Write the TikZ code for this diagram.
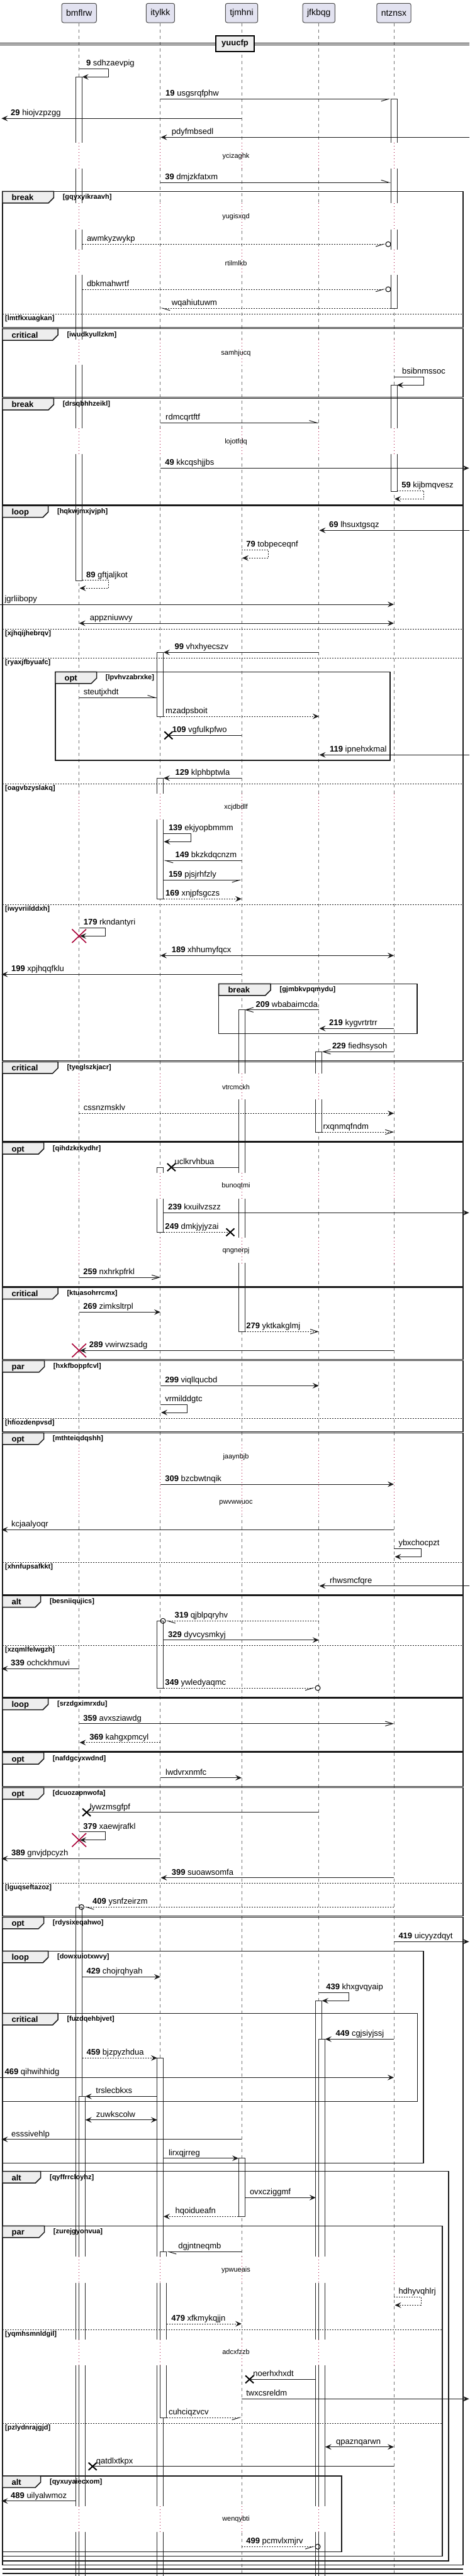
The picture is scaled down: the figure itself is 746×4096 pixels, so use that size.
\documentclass[tikz,border=0pt]{standalone}
\usepackage{fontspec}
\setmainfont{Liberation Sans}
\usetikzlibrary{arrows.meta,shapes.misc}
\definecolor{partfill}{HTML}{E2E2F0}
\definecolor{tabfill}{HTML}{EEEEEE}
\definecolor{delayred}{HTML}{A80036}
\newcommand{\msgsize}{\fontsize{6.5pt}{7.5pt}\selectfont}
\newcommand{\smallsize}{\fontsize{5.5pt}{6.5pt}\selectfont}

\tikzset{
  lifeline/.style={draw=black!55, line width=0.5pt, dash pattern=on 2.5pt off 2.5pt},
  delayline/.style={draw=delayred, line width=0.5pt, dash pattern=on 0.5pt off 2pt},
  bar/.style={draw=black!85, fill=white, line width=0.5pt},
  msg/.style={draw=black!90, line width=0.5pt},
  dotmsg/.style={dash pattern=on 1pt off 1pt},
  tipfull/.style={-{Stealth[length=5pt,width=4.4pt,inset=2pt]}},
  tipboth/.style={{Stealth[length=5pt,width=4.4pt,inset=2pt]}-{Stealth[length=5pt,width=4.4pt,inset=2pt]}},
  tipopen/.style={-{Straight Barb[length=6pt,width=3.7pt]}},
  hbR/.style={-{Straight Barb[harpoon,swap,length=6pt,width=3.7pt]}},
  hbL/.style={-{Straight Barb[harpoon,length=6pt,width=3.7pt]}},
  haR/.style={-{Straight Barb[harpoon,length=6pt,width=3.7pt]}},
  lbl/.style={anchor=base west, inner sep=0pt, font=\msgsize},
  condtxt/.style={anchor=base west, inner sep=0pt, font=\bfseries\smallsize},
  tabtitle/.style={anchor=base west, inner sep=0pt, font=\bfseries\msgsize},
  delaytxt/.style={inner sep=0pt, font=\smallsize},
  grpline/.style={draw=black!90, line width=0.75pt},
  elseline/.style={draw=black!90, line width=0.5pt, dash pattern=on 1pt off 1pt},
  part/.style={draw=black!70, fill=partfill, rounded corners=1.5pt, line width=0.5pt,
    inner xsep=3.5pt, inner ysep=0pt, minimum height=15.35pt, font=\fontsize{7pt}{8pt}\selectfont},
  divbox/.style={draw=black, fill=tabfill, line width=1pt, minimum width=30.5pt,
    minimum height=12.5pt, inner sep=0pt, font=\bfseries\msgsize},
  xmark/.style={cross out, draw=black, line width=1pt, minimum width=5.5pt, minimum height=5pt, inner sep=0pt},
  rxmark/.style={cross out, draw=delayred, line width=0.8pt, minimum width=10.5pt, minimum height=10pt, inner sep=0pt},
  ocirc/.style={circle, draw=black, line width=0.5pt, minimum size=4pt, inner sep=0pt}
}

% message: [style]{name}{x from}{x to}{y}{label x}{label}
\newcommand{\msg}[7][]{%
  \coordinate (#2a) at (#3,#5);
  \coordinate (#2b) at (#4,#5);
  \draw[msg,#1] (#2a) -- (#2b);
  \node[lbl] (#2l) at (#6,#5-4.5) {#7};}
% message ending in a cross
\newcommand{\lostmsg}[7][]{%
  \coordinate (#2a) at (#3,#5);
  \node[xmark] (#2x) at (#4,#5) {};
  \draw[msg,#1] (#2a) -- (#2x.center);
  \node[lbl] (#2l) at (#6,#5-4.5) {#7};}
% message ending in a circle
\newcommand{\circmsg}[7][]{%
  \coordinate (#2a) at (#3,#5);
  \node[ocirc] (#2c) at (#4,#5) {};
  \draw[msg,#1] (#2a) -- (#2c);
  \node[lbl] (#2l) at (#6,#5-4.5) {#7};}
% self message: [style]{name}{x0}{x right}{y1}{y2}{x tip}{label x}{label}
\newcommand{\selfmsg}[9][]{%
  \coordinate (#2a) at (#3,#5);
  \coordinate (#2b) at (#7,#6);
  \draw[msg,#1] (#2a) -- (#4,#5) -- (#4,#6) -- (#2b);
  \node[lbl] (#2l) at (#8,#5-4.5) {#9};}
% activation bar
\newcommand{\actbar}[3]{\draw[bar] (#1,#2) rectangle (#1+10,#3);}
% delay: {name}{y1}{y2}{y text}{text}
\newcommand{\delay}[5]{%
  \foreach \lx in {125.7,254.9,384,506.8,626}{
    \fill[white] (\lx-12,#2) rectangle (\lx+12,#3);
    \draw[delayline] (\lx,#2) -- (\lx,#3);}
  \node[delaytxt] (#1) at (375,#4) {#5};}
% group frame: {name}{x left}{y top}{x right}{y bottom}{tab right}{title}{condition}
\newcommand{\grp}[8]{%
  \draw[grpline] (#2,#3) rectangle (#4,#5);
  \draw[grpline, fill=tabfill] (#2,#3) -- (#6,#3) -- (#6,#3+10) -- (#6-8.5,#3+18.5) -- (#2,#3+18.5) -- cycle;
  \node[tabtitle] (#1t) at (#2+14.4,#3+14.5) {#7};
  \node[condtxt] (#1c) at (#6+14,#3+12.5) {[#8]};}
% else line: {name}{x left}{x right}{y}{condition}
\newcommand{\elsesep}[5]{%
  \draw[elseline] (#2,#4) -- (#3,#4);
  \node[condtxt] (#1) at (#2+4,#4+10) {[#5]};}

\begin{document}
\begin{tikzpicture}[x=0.5pt, y=-0.5pt]
\useasboundingbox (0,0) rectangle (746,4096);

% participants and lifelines
\node[part] (bmflrw) at (125.7,20.65) {bmflrw};
\node[part] (itylkk) at (254.9,20.65) {itylkk};
\node[part] (tjmhni) at (384,20.65) {tjmhni};
\node[part] (jfkbqg) at (506.8,20.65) {jfkbqg};
\node[part] (ntznsx) at (626,20.65) {ntznsx};
\foreach \p in {bmflrw,itylkk,tjmhni,jfkbqg,ntznsx}
  \draw[lifeline] (\p.south) -- (\p.south |- 0,4096);

% divider
\draw[line width=0.5pt] (0,68.3) -- (746,68.3);
\draw[line width=0.5pt] (0,71.3) -- (746,71.3);
\node[divbox] (yuucfp) at (373.5,69.5) {yuucfp};

% activations
\actbar{120.7}{122.3}{923.3}
\actbar{621}{157.3}{490}
\actbar{621}{612.3}{781}
\actbar{249.9}{1037.3}{1139}
\actbar{249.9}{1237.3}{1429.3}
\actbar{379}{1605.7}{2117.3}
\actbar{501.8}{1672.3}{1800}
\actbar{249.9}{1856}{1959.3}
\actbar{249.9}{2577.3}{2684}
\actbar{120.7}{3032.3}{4110}
\actbar{125.7}{3333.3}{4110}
\actbar{501.8}{3181.3}{4110}
\actbar{506.8}{3242.3}{4110}
\actbar{249.9}{3272.3}{4110}
\actbar{254.9}{3580.3}{3844}
\actbar{379}{3431.7}{3524.3}

% delays
\delay{D1}{226.7}{267.7}{248.3}{ycizaghk}
\delay{D2}{323.3}{365}{345}{yugisxqd}
\delay{D3}{396.7}{436.7}{418.3}{rtilmlkb}
\delay{D4}{540}{580}{561.7}{samhjucq}
\delay{D5}{680.7}{721.7}{702.7}{lojotfdq}
\delay{D6}{1261.7}{1303.3}{1283.3}{xcjdbdlf}
\delay{D7}{1706.7}{1748.3}{1728.3}{vtrcmckh}
\delay{D8}{1865}{1906}{1886}{bunoqtmi}
\delay{D9}{1967.7}{2008.3}{1988.3}{qngnerpj}
\delay{D10}{2296.7}{2410}{2316.7}{jaaynbjb}
\node[delaytxt] (D10b) at (375,2389.3) {pwvwwuoc};
\delay{D11}{3588.3}{3630}{3610}{ypwueais}
\delay{D12}{3720}{3760.7}{3740}{adcxfzzb}
\delay{D13}{3985}{4025.7}{4006}{wenqybti}

% groups
\grp{F1}{3.8}{304.3}{736}{520.3}{85.4}{break}{gqyxyikraavh}
\elsesep{E1}{3.8}{736}{499.3}{lmtfkxuagkan}
\grp{F2}{3.8}{522.7}{736}{631.7}{92.1}{critical}{iwudkyullzkm}
\grp{F3}{3.8}{633.3}{736}{802.7}{85.4}{break}{drsqbhhzeikl}
\grp{F4}{3.8}{804}{736}{1686.7}{76.7}{loop}{hqkwjmxjvjph}
\elsesep{E2}{3.8}{736}{1000}{xjhqijhebrqv}
\elsesep{E3}{3.8}{736}{1046}{ryaxjfbyuafc}
\elsesep{E4}{3.8}{736}{1246.7}{oagvbzyslakq}
\elsesep{E5}{3.8}{736}{1438.3}{iwyvriilddxh}
\grp{F4a}{87.8}{1068.3}{620.1}{1209}{153.5}{opt}{lpvhvzabrxke}
\grp{F4b}{347.7}{1564.3}{662.8}{1643.7}{430.2}{break}{gjmbkvpqmydu}
\grp{F5}{3.8}{1688.3}{736}{1815}{92.1}{critical}{tyeglszkjacr}
\grp{F6}{3.8}{1816.7}{736}{2045.3}{69.5}{opt}{qihdzkrkydhr}
\grp{F7}{3.8}{2047}{736}{2161.7}{92.1}{critical}{ktuasohrrcmx}
\grp{F8}{3.8}{2163.3}{736}{2276.7}{70.5}{par}{hxkfboppfcvl}
\elsesep{E6}{3.8}{736}{2255.3}{hfiozdenpvsd}
\grp{F9}{3.8}{2278.3}{736}{2535.3}{69.5}{opt}{mthteiqdqshh}
\elsesep{E7}{3.8}{736}{2484.3}{xhnfupsafkkt}
\grp{F10}{3.8}{2537}{736}{2698.3}{64.7}{alt}{besniiqujics}
\elsesep{E8}{3.8}{736}{2616.3}{xzqmlfelwgzh}
\grp{F11}{3.8}{2700}{736}{2785}{76.7}{loop}{srzdgximrxdu}
\grp{F12}{3.8}{2786.7}{736}{2840.7}{69.5}{opt}{nafdgcyxwdnd}
\grp{F13}{3.8}{2842.3}{736}{3046.7}{69.5}{opt}{dcuozapnwofa}
\elsesep{E9}{3.8}{736}{2994.3}{lguqseftazoz}
\grp{F14}{3.8}{3048.3}{736}{4078.3}{69.5}{opt}{rdysixeqahwo}
\grp{F15}{3.8}{3102.3}{672.9}{3439.3}{76.7}{loop}{dowxuiotxwvy}
\grp{F16}{3.8}{3201.3}{663.3}{3341.7}{92.1}{critical}{fuzdqehbjvet}
\grp{F17}{3.8}{3452.7}{713.2}{4071.7}{64.7}{alt}{qyffrrcloyhz}
\grp{F18}{3.8}{3539.3}{703.1}{4064.3}{70.5}{par}{zurejgyonvua}
\elsesep{E10}{3.8}{703.1}{3704}{yqmhsmnldgil}
\elsesep{E11}{3.8}{703.1}{3853.3}{pzlydnrajgjd}
\grp{F19}{3.8}{3936.7}{543}{4057.3}{64.7}{alt}{qyxuyaiecxom}
\draw[grpline] (3.8,4085) -- (736,4085);
\draw[grpline] (3.8,4091.7) -- (736,4091.7);

% messages
\selfmsg[tipfull]{M1}{125.7}{172.7}{109.3}{122.3}{130.7}{136.7}{\textbf{9} sdhzaevpig}
\msg[hbR]{M2}{254.9}{621}{157.3}{262.8}{\textbf{19} usgsrqfphw}
\msg[tipfull]{M3}{384}{2.4}{188.3}{16.8}{\textbf{29} hiojvzpzgg}
\msg[tipfull]{M4}{746}{255.5}{218.3}{272.4}{pdyfmbsedl}
\msg[haR]{M5}{254.9}{621}{290}{261.9}{\textbf{39} dmjzkfatxm}
\circmsg[dotmsg,hbR]{M6}{130.7}{617}{388.3}{137.6}{awmkyzwykp}
\circmsg[dotmsg,hbR]{M7}{130.7}{617}{460}{137.6}{dbkmahwrtf}
\msg[dotmsg,hbL]{M8}{621}{254.9}{490}{272.4}{wqahiutuwm}
\selfmsg[tipfull]{M9}{626}{673.9}{599.3}{612.3}{631}{638.8}{bsibnmssoc}
\msg[haR]{M10}{254.9}{506.8}{672.3}{262.8}{rdmcqrtftf}
\msg[tipfull]{M11}{254.9}{745.5}{744.3}{261.9}{\textbf{49} kkcqshjjbs}
\selfmsg[dotmsg,tipfull]{M12}{631}{673.9}{780}{793.3}{627}{637.9}{\textbf{59} kijbmqvesz}
\msg[tipfull]{M13}{746}{507.5}{843.3}{522.8}{\textbf{69} lhsuxtgsqz}
\selfmsg[dotmsg,tipfull]{M14}{384}{426.4}{874}{887.3}{385}{390.9}{\textbf{79} tobpeceqnf}
\selfmsg[dotmsg,tipfull]{M15}{130.7}{172.7}{922.7}{935.3}{126.5}{136.7}{\textbf{89} gftjaljkot}
\msg[tipfull]{M16}{0}{626}{961}{7.2}{jgrliibopy}
\msg[tipboth]{M17}{125.7}{626}{991}{142.4}{appzniuwvy}
\msg[tipfull]{M18}{506.8}{259.9}{1037.3}{277.2}{\textbf{99} vhxhyecszv}
\msg[haR]{M19}{125.7}{249.9}{1109.3}{132.4}{steutjxhdt}
\msg[dotmsg,tipfull]{M20}{259.9}{506.8}{1139}{262.8}{mzadpsboit}
\lostmsg{M21}{384}{267.8}{1169.3}{273.4}{\textbf{109} vgfulkpfwo}
\msg[tipfull]{M22}{746}{507.5}{1200.3}{523.7}{\textbf{119} ipnehxkmal}
\msg[tipfull]{M23}{384}{259.9}{1237.3}{278.2}{\textbf{129} klphbptwla}
\selfmsg[tipfull]{M24}{259.9}{303.1}{1325}{1338.3}{260.5}{267.6}{\textbf{139} ekjyopbmmm}
\msg[hbL]{M25}{384}{259.9}{1368.3}{278.2}{\textbf{149} bkzkdqcnzm}
\msg[hbR]{M26}{259.9}{384}{1399.3}{267.6}{\textbf{159} pjsjrhfzly}
\msg[dotmsg,tipfull]{M27}{259.9}{384}{1429.3}{262.8}{\textbf{169} xnjpfsgczs}
\selfmsg[tipfull]{M28}{125.7}{167.9}{1475.3}{1488.3}{127}{132.4}{\textbf{179} rkndantyri}
\node[rxmark] (M28x) at (125.7,1488.3) {};
\msg[tipboth]{M29}{254.9}{626}{1519.3}{272.4}{\textbf{189} xhhumyfqcx}
\msg[tipfull]{M30}{384}{2.4}{1549.3}{17.7}{\textbf{199} xpjhqqfklu}
\msg[tipopen]{M31}{506.8}{389}{1605.7}{406.2}{\textbf{209} wbabaimcda}
\msg[tipfull]{M32}{626}{507.5}{1635.3}{522.8}{\textbf{219} kygvrtrtrr}
\msg[tipopen]{M33}{626}{511.8}{1672.3}{527.6}{\textbf{229} fiedhsysoh}
\msg[dotmsg,tipfull]{M34}{125.7}{626}{1770.3}{132.4}{cssnzmsklv}
\msg[dotmsg,tipopen]{M35}{511.8}{626}{1800}{513.2}{rxqnmqfndm}
\lostmsg{M36}{379}{272.4}{1856}{277.2}{uclkrvhbua}
\msg[tipfull]{M37}{259.9}{745.5}{1928.3}{266.7}{\textbf{239} kxuilvzszz}
\lostmsg[dotmsg]{M38}{259.9}{366}{1959.3}{261.9}{\textbf{249} dmkjyjyzai}
\msg[tipopen]{M39}{125.7}{254.9}{2031}{131.9}{\textbf{259} nxhrkpfrkl}
\msg[tipfull]{M40}{125.7}{254.9}{2086.3}{131.9}{\textbf{269} zimksltrpl}
\msg[dotmsg,tipopen]{M41}{389}{506.8}{2117.3}{390.9}{\textbf{279} yktkakglmj}
\msg[tipfull]{M42}{626}{127}{2147.3}{141.5}{\textbf{289} vwirwzsadg}
\node[rxmark] (M42x) at (125.7,2147.3) {};
\msg[tipfull]{M43}{254.9}{506.8}{2203.3}{261.9}{\textbf{299} viqllqucbd}
\selfmsg[tipfull]{M44}{254.9}{297.4}{2233.3}{2246}{256}{261.9}{vrmilddgtc}
\msg[tipfull]{M45}{254.9}{626}{2360}{261.9}{\textbf{309} bzcbwtnqik}
\msg[tipfull]{M46}{626}{2.4}{2432.3}{17.7}{kcjaalyoqr}
\selfmsg[tipfull]{M47}{626}{669.1}{2462.3}{2475.3}{627.5}{633.1}{ybxchocpzt}
\msg[tipfull]{M48}{746}{507.5}{2521.7}{523.7}{rhwsmcfqre}
\circmsg[dotmsg,hbL]{M49}{506.8}{259}{2577.3}{277.2}{\textbf{319} qjblpqryhv}
\msg[tipfull]{M50}{259.9}{506.8}{2607.7}{266.7}{\textbf{329} dyvcysmkyj}
\msg[tipfull]{M51}{125.7}{2.4}{2653.3}{16.8}{\textbf{339} ochckhmuvi}
\circmsg[dotmsg,hbR]{M52}{259.9}{505}{2684}{261.9}{\textbf{349} ywledyaqmc}
\msg[tipopen]{M53}{125.7}{626}{2740.7}{131.9}{\textbf{359} avxsziawdg}
\msg[dotmsg,tipfull]{M54}{254.9}{126.5}{2770.7}{142}{\textbf{369} kahgxpmcyl}
\msg[tipfull]{M55}{254.9}{384}{2826.7}{262.8}{lwdvrxnmfc}
\lostmsg{M56}{506.8}{137.6}{2881.7}{142.4}{lywzmsgfpf}
\selfmsg[tipfull]{M57}{125.7}{167.9}{2912.7}{2925.7}{127}{131.9}{\textbf{379} xaewjrafkl}
\node[rxmark] (M57x) at (125.7,2925.7) {};
\msg[tipfull]{M58}{254.9}{2.4}{2955.3}{17.7}{\textbf{389} gnvjdpcyzh}
\msg[tipfull]{M59}{626}{255.5}{2985.7}{272.4}{\textbf{399} suoawsomfa}
\circmsg[dotmsg,hbL]{M60}{626}{129.5}{3032.3}{146.8}{\textbf{409} ysnfzeirzm}
\msg[tipfull]{M61}{626}{745.5}{3087.3}{633.1}{\textbf{419} uicyyzdqyt}
\msg[tipfull]{M62}{130.7}{254.9}{3143.3}{137.2}{\textbf{429} chojrqhyah}
\selfmsg[tipfull]{M63}{506.8}{554}{3168.3}{3181.3}{511.8}{518}{\textbf{439} khxgvqyaip}
\msg[tipfull]{M64}{626}{516.8}{3242.3}{533.3}{\textbf{449} cgjsiyjssj}
\msg[dotmsg,tipfull]{M65}{130.7}{249.9}{3272.3}{137.2}{\textbf{459} bjzpyzhdua}
\msg[tipfull]{M66}{0}{626}{3303.3}{7.2}{\textbf{469} qihwihhidg}
\msg[tipfull]{M67}{249.9}{135.7}{3333.3}{152}{trslecbkxs}
\msg[tipboth]{M68}{135.7}{249.9}{3370.7}{152.5}{zuwkscolw}
\msg[tipfull]{M69}{384}{2.4}{3401.7}{17.7}{esssivehlp}
\msg[tipfull]{M70}{259.9}{379}{3431.7}{267.6}{lirxqjrreg}
\msg[tipfull]{M71}{389}{501.8}{3494.3}{396.6}{ovxcziggmf}
\msg[dotmsg,tipfull]{M72}{379}{259.9}{3524.3}{278.2}{hqoidueafn}
\msg[hbL]{M73}{384}{264.9}{3580.3}{283}{dgjntneqmb}
\selfmsg[dotmsg,tipfull]{M74}{626}{669.1}{3652.3}{3665.3}{627.5}{633.1}{hdhyvqhlrj}
\msg[dotmsg,tipfull]{M75}{264.9}{384}{3695}{271.9}{\textbf{479} xfkmykqjjn}
\lostmsg{M76}{501.8}{396.6}{3783.3}{401.9}{noerhxhxdt}
\msg[tipfull]{M77}{384}{745.5}{3814.3}{390.9}{twxcsreldm}
\msg[dotmsg,hbR]{M78}{264.9}{384}{3844}{267.6}{cuhciqzvcv}
\msg[tipboth]{M79}{516.8}{626}{3890.7}{533.8}{qpaznqarwn}
\lostmsg{M80}{626}{147.2}{3921.7}{152.5}{qatdlxtkpx}
\msg[tipfull]{M81}{120.7}{2.4}{3976.7}{16.8}{\textbf{489} uilyalwmoz}
\circmsg[dotmsg,hbR]{M82}{384}{505}{4049.3}{390.9}{\textbf{499} pcmvlxmjrv}
\end{tikzpicture}
\end{document}
